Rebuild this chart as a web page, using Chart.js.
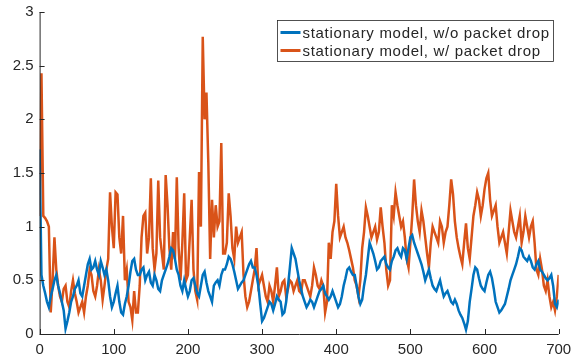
<!DOCTYPE html>
<html>
<head>
<meta charset="utf-8">
<script src="https://cdn.jsdelivr.net/npm/chart.js@4/dist/chart.umd.min.js"></script>
<style>
  body { margin: 0; background: #fff; }
  #wrap { width: 573px; height: 362px; }
</style>
</head>
<body>
<div id="wrap"><canvas id="plot" width="573" height="362"></canvas></div>
<script>
// sample grid: one reading every 2.5 steps, 0..700
var steps = [];
for (var i = 0; i <= 280; i++) steps.push(i * 2.5);

var noDrop = [
  1.72,0.55,0.45,0.38,0.3,0.25,0.35,0.42,0.5,0.55,0.45,0.38,0.3,0.22,0.05,0.12,0.2,0.3,0.35,0.42,
  0.45,0.5,0.38,0.35,0.45,0.55,0.65,0.7,0.6,0.62,0.68,0.6,0.55,0.68,0.62,0.55,0.6,0.5,0.35,0.25,
  0.3,0.38,0.45,0.3,0.2,0.18,0.28,0.35,0.45,0.58,0.68,0.7,0.6,0.55,0.55,0.6,0.62,0.5,0.55,0.58,
  0.48,0.45,0.55,0.5,0.42,0.4,0.5,0.55,0.6,0.65,0.72,0.8,0.78,0.7,0.6,0.55,0.45,0.4,0.5,0.42,
  0.35,0.4,0.5,0.52,0.45,0.38,0.35,0.45,0.55,0.58,0.48,0.4,0.35,0.3,0.45,0.48,0.5,0.45,0.55,0.6,
  0.6,0.65,0.72,0.7,0.65,0.58,0.5,0.42,0.45,0.48,0.5,0.55,0.6,0.65,0.68,0.62,0.62,0.55,0.45,0.28,
  0.12,0.15,0.2,0.25,0.3,0.28,0.22,0.28,0.35,0.32,0.3,0.18,0.2,0.3,0.45,0.62,0.8,0.75,0.7,0.6,
  0.5,0.42,0.35,0.3,0.25,0.28,0.32,0.3,0.25,0.3,0.35,0.4,0.42,0.45,0.38,0.35,0.32,0.35,0.4,0.35,
  0.3,0.25,0.28,0.35,0.45,0.52,0.6,0.62,0.58,0.55,0.55,0.45,0.35,0.28,0.32,0.45,0.55,0.7,0.85,0.8,
  0.75,0.68,0.6,0.62,0.68,0.7,0.72,0.65,0.62,0.6,0.68,0.72,0.78,0.8,0.75,0.72,0.8,0.78,0.7,0.8,
  0.9,0.92,0.85,0.8,0.75,0.7,0.65,0.58,0.5,0.55,0.6,0.52,0.45,0.42,0.4,0.45,0.5,0.42,0.35,0.38,
  0.4,0.35,0.3,0.28,0.32,0.28,0.22,0.18,0.15,0.1,0.04,0.12,0.3,0.42,0.55,0.62,0.6,0.52,0.45,0.42,
  0.4,0.48,0.55,0.58,0.52,0.42,0.3,0.25,0.2,0.22,0.25,0.28,0.35,0.42,0.5,0.55,0.6,0.65,0.72,0.8,
  0.78,0.72,0.7,0.68,0.72,0.68,0.62,0.6,0.65,0.68,0.6,0.58,0.55,0.52,0.5,0.52,0.55,0.45,0.28,0.25,
  0.32];

var withDrop = [
  1.1,2.43,1.1,1.08,1.05,1.0,0.2,0.5,0.9,0.6,0.45,0.35,0.3,0.42,0.45,0.3,0.25,0.4,0.5,0.38,
  0.3,0.2,0.25,0.3,0.2,0.35,0.45,0.6,0.55,0.4,0.35,0.45,0.6,0.5,0.32,0.45,0.6,0.7,1.32,1.0,
  0.8,1.32,1.3,0.9,0.75,1.1,0.5,0.6,0.3,0.25,0.13,0.4,0.2,0.2,0.45,0.9,1.1,1.13,0.75,0.9,
  1.45,0.8,0.6,0.75,1.43,0.9,0.75,0.6,1.48,1.2,0.8,0.6,0.95,0.7,1.46,0.8,0.5,0.85,1.31,0.5,
  0.55,0.9,1.25,0.6,0.4,0.32,1.51,1.0,2.77,2.0,2.25,1.6,0.7,1.25,0.9,1.2,1.0,1.05,1.78,0.75,
  0.75,0.85,1.31,1.1,0.8,0.7,1.0,0.85,0.9,0.95,0.55,0.35,0.25,0.3,0.4,0.5,0.6,0.8,0.45,0.5,
  0.55,0.45,0.35,0.3,0.45,0.4,0.3,0.45,0.62,0.35,0.4,0.48,0.5,0.35,0.42,0.5,0.48,0.4,0.45,0.5,
  0.4,0.38,0.5,0.5,0.45,0.4,0.35,0.45,0.62,0.55,0.45,0.42,0.5,0.45,0.2,0.3,0.85,0.7,0.95,1.05,
  1.4,1.1,0.9,0.95,1.0,0.9,0.85,0.78,0.7,0.62,0.5,0.45,0.35,0.5,0.8,0.95,1.18,1.1,1.0,0.9,
  0.95,1.0,0.88,0.95,1.18,1.0,0.85,0.6,0.45,0.5,1.2,1.1,1.32,1.2,1.1,1.0,1.05,0.9,0.7,0.62,
  0.85,1.1,1.44,1.2,1.05,0.95,1.15,1.05,0.9,0.75,0.62,0.85,1.0,0.95,0.9,0.85,1.05,1.0,0.85,0.95,
  1.0,1.2,1.44,1.3,1.05,0.9,0.8,0.72,0.65,0.85,1.03,0.8,0.7,0.9,1.1,1.2,1.32,1.25,1.1,1.2,
  1.35,1.45,1.5,1.25,1.1,1.15,1.2,1.0,0.85,0.9,0.95,0.85,0.75,0.95,1.15,1.05,0.95,0.9,1.0,1.1,
  0.85,0.95,1.1,1.0,0.9,1.0,1.05,0.85,0.6,0.55,0.7,0.6,0.45,0.4,0.5,0.35,0.25,0.3,0.22,0.35,
  0.55];

var xTicks = [0,100,200,300,400,500,600,700];
var yTicks = [0,0.5,1,1.5,2,2.5,3];
var seriesNames = ['stationary model, w/o packet drop', 'stationary model, w/ packet drop'];
var seriesColors = ['#0072BD', '#D95319'];

function toPoints(vals) {
  return vals.map(function(v, i) { return { x: steps[i], y: v }; });
}

var axisColor = '#262626';
var fontFam = '"Liberation Sans", Arial, Helvetica, sans-serif';

// matlab style axes: left + bottom lines, ticks pointing inward, legend box
var matlabAxes = {
  id: 'matlabAxes',
  afterDraw: function(chart) {
    var ctx = chart.ctx;
    var a = chart.chartArea;
    var xs = chart.scales.x, ys = chart.scales.y;
    ctx.save();
    ctx.strokeStyle = axisColor;
    ctx.lineWidth = 1;
    ctx.beginPath();
    ctx.moveTo(a.left + 0.5, a.top);
    ctx.lineTo(a.left + 0.5, a.bottom + 0.5);
    ctx.lineTo(a.right, a.bottom + 0.5);
    xTicks.forEach(function(t) {
      var px = Math.round(xs.getPixelForValue(t)) + 0.5;
      ctx.moveTo(px, a.bottom);
      ctx.lineTo(px, a.bottom - 5);
    });
    yTicks.forEach(function(t) {
      var py = Math.round(ys.getPixelForValue(t)) + 0.5;
      ctx.moveTo(a.left, py);
      ctx.lineTo(a.left + 5, py);
    });
    ctx.stroke();

    // legend
    var bx = 277.5, by = 20.5, bw = 276, bh = 41;
    ctx.fillStyle = '#fff';
    ctx.fillRect(bx, by, bw, bh);
    ctx.strokeStyle = '#262626';
    ctx.lineWidth = 0.8;
    ctx.strokeRect(bx, by, bw, bh);
    ctx.font = '15px ' + fontFam;
    ctx.letterSpacing = '0.7px';
    ctx.textBaseline = 'middle';
    ctx.textAlign = 'left';
    for (var i = 0; i < 2; i++) {
      var ly = by + 12 + i * 18;
      ctx.strokeStyle = seriesColors[i];
      ctx.lineWidth = 3;
      ctx.beginPath();
      ctx.moveTo(bx + 3, ly);
      ctx.lineTo(bx + 23, ly);
      ctx.stroke();
      ctx.fillStyle = axisColor;
      ctx.fillText(seriesNames[i], bx + 25, ly + 1);
    }
    ctx.restore();
  }
};

var ctx = document.getElementById('plot').getContext('2d');
var chart = new Chart(ctx, {
  type: 'line',
  data: {
    datasets: [{
      label: seriesNames[0],
      data: toPoints(noDrop),
      borderColor: seriesColors[0],
      borderWidth: 2.5,
      pointRadius: 0,
      tension: 0
    }, {
      label: seriesNames[1],
      data: toPoints(withDrop),
      borderColor: seriesColors[1],
      borderWidth: 2.5,
      pointRadius: 0,
      tension: 0
    }]
  },
  options: {
    responsive: false,
    animation: false,
    layout: { padding: { top: 12, right: 14.3, left: 0, bottom: 0 } },
    plugins: {
      legend: { display: false },
      tooltip: { enabled: false }
    },
    scales: {
      x: {
        type: 'linear',
        min: 0,
        max: 700,
        afterFit: function(s) {
          s.height = 28;
          s.paddingLeft = 0;
          s.paddingRight = 0;
        },
        afterBuildTicks: function(s) { s.ticks = xTicks.map(function(v) { return { value: v }; }); },
        grid: { display: false, drawTicks: false },
        border: { display: false },
        ticks: {
          padding: 7,
          color: axisColor,
          maxRotation: 0,
          font: { size: 15, family: fontFam },
          callback: function(v) { return String(v); }
        }
      },
      y: {
        type: 'linear',
        min: 0,
        max: 3,
        afterFit: function(s) {
          s.width = 39.6;
          s.paddingTop = 0;
          s.paddingBottom = 0;
        },
        afterBuildTicks: function(s) { s.ticks = yTicks.map(function(v) { return { value: v }; }); },
        grid: { display: false, drawTicks: false },
        border: { display: false },
        ticks: {
          padding: 6,
          color: axisColor,
          font: { size: 15, family: fontFam },
          callback: function(v) { return String(v); }
        }
      }
    }
  },
  plugins: [matlabAxes]
});
</script>
</body>
</html>
